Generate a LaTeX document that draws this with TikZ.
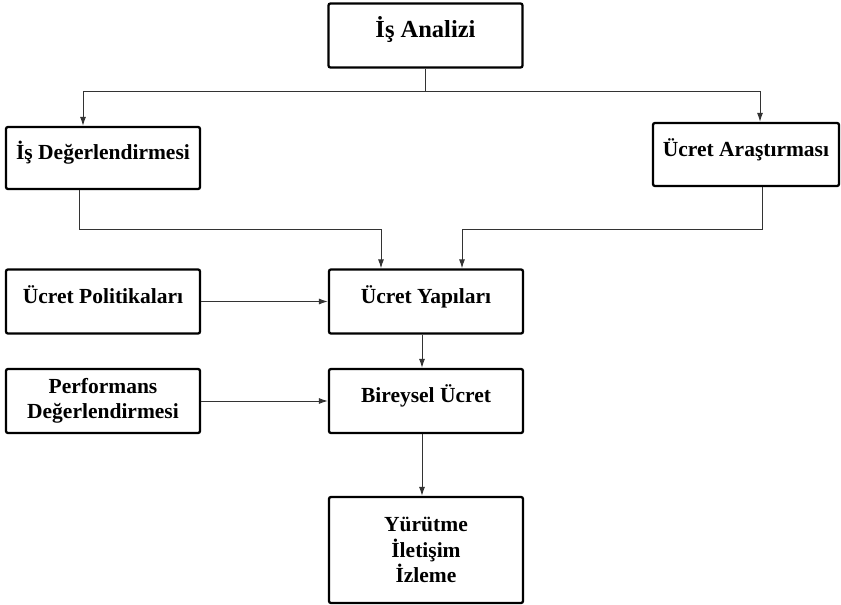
\documentclass[tikz,border=0pt]{standalone}
\usepackage{fontspec}
\setmainfont{Liberation Serif}
\usetikzlibrary{arrows.meta,calc}
\begin{document}
\begin{tikzpicture}[x=1pt,y=-1pt,
  box/.style={draw=black, line width=2.3pt, rounded corners=2pt, fill=white,
    minimum width=194pt, minimum height=64pt, inner sep=0pt, align=center,
    font=\fontsize{21.5}{25.5}\selectfont\bfseries},
  one/.style={text height=16.5pt, text depth=13.5pt},
  conn/.style={draw=black!80, line width=1pt},
  arr/.style={conn, -{Latex[length=9pt,width=6pt]}}
]
\useasboundingbox (0,0) rectangle (841,605);
% boxes
\node[box, one, font=\fontsize{24.5}{28}\selectfont\bfseries] (ia) at (425.5,35.5) {İş Analizi};
\node[box, one, minimum height=62pt] (id) at (103,158) {İş Değerlendirmesi};
\node[box, one, minimum width=186pt, minimum height=63pt] (ua) at (746,154.5) {Ücret Araştırması};
\node[box, one] (up) at (103,301.5) {Ücret Politikaları};
\node[box, one] (uy) at (426,301.5) {Ücret Yapıları};
\node[box] (pd) at (103,401) {Performans\\Değerlendirmesi};
\node[box, one] (bu) at (426,401) {Bireysel Ücret};
\node[box, minimum height=106pt] (yi) at (426,550) {Yürütme\\İletişim\\İzleme};
% connectors
\coordinate (s1) at ($(ia.south)+(0,23)$);
\draw[conn] (ia.south) -- (s1);
\draw[arr] (s1) -| ([xshift=-20pt]id.north);
\draw[arr] (s1) -| ([xshift=14pt]ua.north);
\draw[arr] ([xshift=-24pt]id.south) -- ++(0,39) -| ([xshift=-45pt]uy.north);
\draw[arr] ([xshift=16pt]ua.south) -- ++(0,42) -| ([xshift=36pt]uy.north);
\draw[arr] (up.east) -- (uy.west);
\draw[arr] (pd.east) -- (bu.west);
\draw[arr] ([xshift=-4pt]uy.south) -- ([xshift=-4pt]bu.north);
\draw[arr] ([xshift=-4pt]bu.south) -- ([xshift=-4pt]yi.north);
\end{tikzpicture}
\end{document}
